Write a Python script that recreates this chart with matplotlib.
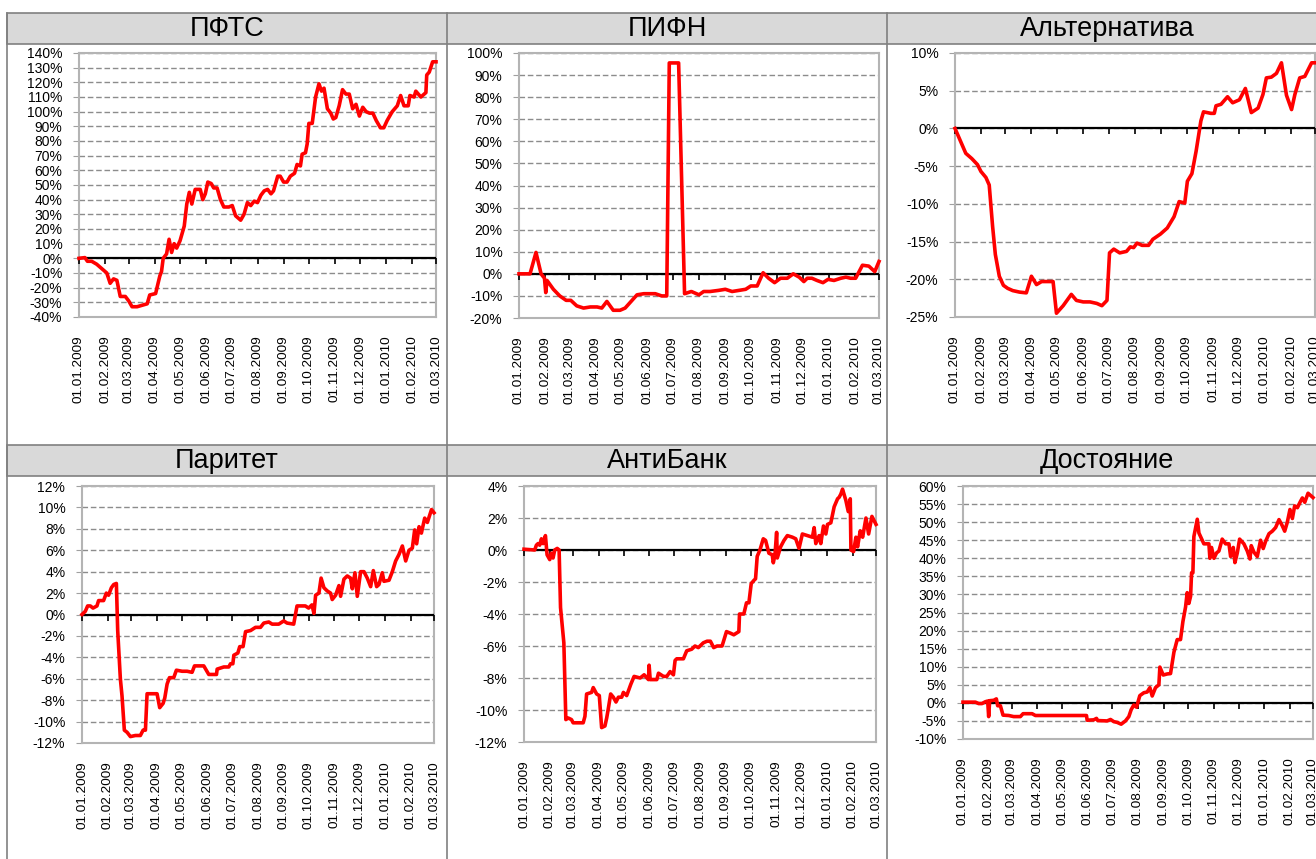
import numpy as np
import matplotlib
matplotlib.use('Agg')
from matplotlib import pyplot as plt
import matplotlib.dates as mdates
from matplotlib.lines import Line2D
from matplotlib.patches import Rectangle
from matplotlib.ticker import FuncFormatter, MultipleLocator
from matplotlib.markers import TICKDOWN
from datetime import datetime

plt.rcParams['font.family'] = ['Liberation Sans', 'DejaVu Sans']

# day offsets from 01.01.2009, values in %
pfts_days = [0, 7, 10, 15, 21, 27, 33, 37, 41, 45, 49, 55, 59, 63, 69, 75, 81, 84, 91, 96, 98, 100,
             104, 107, 110, 113, 116, 120, 125, 128, 131, 134, 138, 144, 147, 150, 153, 157, 160, 164,
             168, 172, 178, 182, 186, 192, 196, 200, 204, 208, 212, 216, 220, 224, 228, 231, 236, 239,
             243, 247, 251, 256, 259, 263, 265, 269, 271, 273, 277, 281, 285, 288, 291, 295, 299, 302,
             305, 309, 313, 317, 321, 325, 329, 333, 337, 341, 345, 349, 353, 358, 362, 366, 372, 378,
             382, 386, 391, 393, 398, 400, 406, 410, 412, 413, 416, 420, 424]
pfts_vals = [0, 0.5, -2, -2, -4, -7, -10, -17, -14, -15, -26, -26, -29, -33, -33, -32, -31, -25, -24,
             -12, -9, 0, 3, 13, 4, 10, 7, 12, 22, 37, 45, 37, 47, 47, 40, 44, 52, 51, 48, 48, 40, 35, 35,
             36, 29, 26, 30, 38, 36, 39, 38, 43, 46, 47, 44, 46, 56, 56, 52, 52, 56, 58, 64, 63, 71, 72,
             78, 92, 92, 110, 119, 114, 116, 102, 99, 95, 96, 104, 115, 112, 112, 102, 105, 97, 103, 100,
             99, 99, 94, 89, 89, 94, 100, 104, 111, 104, 104, 111, 110, 114, 110, 112, 113, 125, 127,
             134, 134]

pifn_days = [0, 13, 20, 26, 30, 31.5, 33, 40.5, 48, 55.5, 61, 68, 76, 84, 92, 97.5, 103.5, 111, 119,
             125, 132, 139, 147, 155, 160.5, 168, 174, 177, 182, 188, 195, 203, 212, 217.5, 225, 235,
             243, 251, 259, 267, 273, 280.5, 287.5, 294, 301, 308, 316, 323, 330, 335.5, 339.5, 345,
             351, 358, 364, 371, 379, 385, 390.5, 396.5, 404.5, 412, 419, 424]
pifn_vals = [0, 0, 9.7, 0, -2, -8.5, -3, -7, -10, -12, -12, -14.5, -15.5, -15, -15, -15.5, -12.5,
             -16.5, -16.5, -15.5, -12.5, -9.5, -9, -9, -9, -10, -10, 95.5, 95.5, 95.5, -9, -8, -9.5,
             -8, -8, -7.5, -7, -8, -7.5, -7, -5.5, -5.5, 0.5, -2, -4, -2, -2, 0, -1.5, -3.5, -2, -2,
             -3, -4, -2.5, -3, -2, -1.5, -2, -2, 3.9, 3.5, 1, 5.6]

alt_days = [0, 12.7, 19.8, 26.5, 30.5, 36.4, 40.3, 44.3, 47.5, 52.2, 57, 62, 68, 76, 84, 90, 96, 102,
            107.6, 115.5, 119.5, 127.4, 137, 143, 151, 159, 167, 173, 179, 182, 187, 194, 202, 206.5,
            210.4, 214.4, 220.3, 228, 233, 242, 250, 258, 264, 270.6, 273.7, 279, 284, 289.6, 292.7,
            301.4, 305.4, 307.4, 313.3, 321, 327, 335, 342, 349, 357, 362.7, 366.7, 372.6, 378.6,
            384.5, 390.4, 396.4, 400.3, 406, 412, 420, 424]
alt_vals = [0, -3.3, -4, -4.8, -5.7, -6.5, -7.5, -13, -16.7, -19.6, -20.8, -21.2, -21.5, -21.7, -21.8,
            -19.6, -20.7, -20.3, -20.3, -20.3, -24.5, -23.5, -22, -22.8, -23, -23, -23.2, -23.5, -22.8,
            -16.5, -16, -16.5, -16.3, -15.7, -15.8, -15.2, -15.5, -15.5, -14.7, -14, -13.2, -11.7, -9.7,
            -9.9, -7, -6, -3, 1, 2.2, 2, 2, 3, 3.2, 4.2, 3.4, 3.8, 5.3, 2.1, 2.7, 4.5, 6.7, 6.8, 7.3,
            8.7, 4.4, 2.5, 4.5, 6.7, 6.9, 8.7, 8.7]

par_days = [0, 4, 6.8, 10, 13.3, 18, 20, 26, 29.3, 32, 35.4, 38.2, 41.4, 43, 46.2, 48.2, 51, 54.3, 58.3,
            64.3, 70.3, 73.6, 76.4, 78.4, 90.4, 93.6, 97.7, 99.7, 102.5, 105.3, 110.5, 113.7, 120.6,
            126.6, 132.6, 135.5, 146.7, 152.7, 162, 162.8, 170.8, 176.8, 178.9, 181.7, 182.9, 187.7,
            190, 194, 197, 203, 209, 215, 219, 225, 229, 237, 243, 247, 255, 259, 269, 273, 277, 279.4,
            281.4, 285.4, 288, 291.4, 295.4, 299.4, 301.4, 305.5, 309.5, 311.5, 315.5, 319.5, 323.5,
            325.6, 328.8, 331.6, 335.6, 339.6, 343.6, 347.7, 350.9, 354.9, 357.7, 361.7, 363.7, 369.8,
            373.8, 377.8, 381.8, 385.9, 389.9, 393.9, 397.9, 400.7, 403.1, 406, 408.8, 412.8, 416, 421,
            424]
par_vals = [0, 0.3, 0.8, 0.8, 0.6, 0.8, 1.3, 1.3, 2.0, 1.8, 2.5, 2.8, 2.9, -1.5, -6, -7.6, -10.8, -11,
            -11.4, -11.3, -11.3, -10.8, -10.8, -7.4, -7.4, -8.7, -8.3, -7.8, -6.5, -5.9, -5.9, -5.2,
            -5.3, -5.3, -5.4, -4.8, -4.8, -5.6, -5.6, -5.1, -4.9, -4.9, -4.6, -4.6, -3.8, -3.6, -3.0,
            -3.0, -1.6, -1.5, -1.2, -1.2, -0.8, -0.7, -0.9, -0.9, -0.6, -0.8, -0.9, 0.8, 0.8, 0.6, 0.9,
            0.1, 1.8, 2.0, 3.4, 2.5, 2.2, 2.0, 1.4, 1.8, 2.7, 1.7, 3.3, 3.6, 3.4, 2.4, 3.9, 1.7, 4.0, 4.0,
            3.4, 2.6, 4.1, 2.6, 2.8, 3.9, 3.1, 3.2, 4.0, 5.0, 5.6, 6.4, 5.0, 6.0, 6.2, 7.9, 6.6, 8.2,
            7.6, 9.0, 8.6, 9.8, 9.5]

anti_days = [0, 12.9, 14.9, 16.9, 18.9, 21, 23, 25.8, 27.8, 31, 33, 35, 37, 40, 42.3, 44, 48, 50.4,
             53.2, 57.2, 59.2, 71.3, 73.4, 75.4, 81.4, 83.4, 87.5, 90.7, 93.5, 97.5, 99.6, 101.6, 104.4,
             107.6, 110.8, 113.7, 117.7, 119.7, 123.7, 128.6, 132.6, 139.9, 144.7, 149.9, 150.7, 152,
             160, 162, 168, 172, 176, 180, 182, 184, 192, 196, 202, 206, 210, 216, 220.5, 224.5, 228.5,
             232.6, 238.6, 243.9, 248.7, 252.7, 258.8, 259.6, 264.8, 268, 270.9, 273.7, 276.9, 278.9,
             280.9, 284.2, 288.2, 291, 295, 299, 300.3, 302.3, 304.3, 305.1, 309.1, 313.2, 317.2, 323.3,
             327.3, 331.3, 335.3, 341.4, 347.4, 349.5, 351.5, 355.5, 357.5, 360.7, 363.6, 365.6, 369.6,
             373.6, 377.7, 379.7, 381.7, 383.7, 387.7, 390.6, 393, 393.8, 397, 399.8, 401.8, 405, 407.9,
             411.9, 415.1, 419.1, 424]
anti_vals = [0.05, 0, 0.3, 0.4, 0.3, 0.7, 0.4, 0.9, -0.3, -0.6, -0.2, -0.5, 0, 0.1, 0, -3.6, -5.8,
             -10.6, -10.5, -10.6, -10.8, -10.8, -10.4, -9.0, -8.9, -8.6, -9.0, -9.1, -11.1, -11, -10.5,
             -9.9, -9.0, -9.2, -9.5, -9.2, -9.2, -8.9, -9.1, -8.4, -7.9, -8.0, -7.8, -8.1, -7.2, -8.1,
             -8.1, -7.7, -7.9, -7.9, -7.6, -7.8, -6.9, -6.8, -6.8, -6.3, -6.2, -6.0, -6.1, -5.8, -5.7,
             -5.7, -6.1, -6.0, -6.0, -5.1, -5.2, -5.3, -5.1, -4.0, -4.0, -3.3, -3.3, -2.1, -1.9, -1.8,
             -0.4, 0, 0.7, 0.6, -0.2, -0.3, -0.8, -0.3, 1.1, -0.5, 0.2, 0.6, 0.9, 0.8, 0.7, 0.1, 1.0,
             0.9, 0.8, 1.4, 0.4, 0.9, 0.4, 1.5, 1.0, 1.6, 1.7, 2.7, 3.2, 3.3, 3.5, 3.8, 3.1, 2.4, 3.2,
             0, -0.1, 0.8, 0.2, 1.2, 0.8, 2.0, 1.0, 2.1, 1.6]

dost_days = [0, 15, 19, 23, 27, 29.9, 31.1, 32.3, 37.2, 40.4, 42, 45.3, 48.5, 55.4, 61.4, 69.5, 72.8,
             83.7, 87.7, 97.8, 109.9, 126.1, 138.2, 149.6, 150.4, 158.4, 161.7, 163.3, 174.6, 178.7,
             182.7, 186.7, 191.6, 196.8, 200.9, 203.7, 206.9, 210.2, 214.2, 219.1, 223.1, 226.4, 229.2,
             233.2, 237.3, 238.5, 242.5, 247.4, 251.4, 255.5, 259.5, 263.5, 266.4, 269.6, 271.6, 273.6,
             275.7, 276.9, 278.5, 279.7, 283.8, 285.8, 289.8, 291.8, 297.9, 299.1, 301.1, 304, 307.2,
             310, 314, 318.1, 322.2, 324.2, 327.4, 329.4, 332.3, 335.1, 340.3, 344.4, 347.6, 349.2,
             352.4, 356.5, 360.5, 363.7, 366.6, 370.7, 374.7, 378.7, 382.8, 386.8, 389.7, 392.9, 396.1,
             399, 401.8, 405.1, 408.3, 411.1, 414, 418, 424]
dost_vals = [0.2, 0.2, -0.2, -0.2, 0.3, 0.5, -3.8, 0.6, 0.7, 1.1, -0.8, -0.8, -3.4, -3.5, -3.8, -3.8,
             -3.0, -3.0, -3.5, -3.5, -3.5, -3.5, -3.5, -3.5, -4.8, -4.7, -4.3, -4.9, -5.0, -4.6, -5.2,
             -5.4, -5.9, -5.0, -3.8, -1.9, -0.6, -1.2, 2.0, 2.8, 3.0, 4.2, 1.9, 4.2, 5.0, 9.9, 7.7, 8.0,
             8.1, 14, 17.5, 17.5, 22.5, 26.5, 30.5, 27.5, 29.5, 36, 36, 46, 50.8, 47, 45, 44, 44, 40, 43,
             40, 41.5, 42, 45.3, 44, 44, 40.5, 43, 38.8, 41.5, 45.3, 44, 42, 39.8, 43.5, 41.7, 40.5, 45,
             42.7, 44.7, 46.8, 47.5, 48.5, 50.7, 49.0, 47.5, 50.0, 53.5, 51, 54.5, 54, 55.5, 56.7, 55.5,
             58.0, 56.8]

titles = ['ПФТС', 'ПИФН', 'Альтернатива', 'Паритет', 'АнтиБанк', 'Достояние']
series = [(pfts_days, pfts_vals), (pifn_days, pifn_vals), (alt_days, alt_vals),
          (par_days, par_vals), (anti_days, anti_vals), (dost_days, dost_vals)]
ylims = [(-40, 140, 10), (-20, 100, 10), (-25, 10, 5), (-12, 12, 2), (-12, 4, 2), (-10, 60, 5)]

W, H = 1316, 859
# plot boxes in pixels: x0, y0, x1, y1
boxes = [(79, 53, 436, 317), (519, 53, 879, 318), (955, 53, 1315, 317),
         (82, 486, 434, 743), (524, 486, 876, 742), (963, 486, 1313, 739)]

fig = plt.figure(figsize=(W / 100, H / 100), dpi=100)

# table grid
grey = '#808080'
for ytop in (13, 445):
    fig.add_artist(Rectangle((7 / W, 1 - (ytop + 31) / H), 1.1, 31 / H, transform=fig.transFigure,
                             facecolor='#d9d9d9', edgecolor=grey, lw=1.2))
for xv in (7, 447, 887):
    fig.add_artist(Line2D([xv / W, xv / W], [0, 1 - 13 / H], transform=fig.transFigure, color=grey, lw=1.2))

base = mdates.date2num(datetime(2009, 1, 1))
months = [datetime(2009 + (m // 12), m % 12 + 1, 1) for m in range(15)]
mnum = mdates.date2num(months)

for i in range(6):
    x0, y0, x1, y1 = boxes[i]
    ax = fig.add_axes([x0 / W, 1 - y1 / H, (x1 - x0) / W, (y1 - y0) / H])
    col, row = i % 3, i // 3
    hy = 13 if row == 0 else 445
    fig.text((7 + 440 * col + 220) / W, 1 - (hy + 16) / H, titles[i], ha='center', va='center', fontsize=19.5)

    d, v = series[i]
    ax.plot(base + np.array(d), v, color='#ff0000', lw=2.6, zorder=4, clip_on=False)
    lo, hi, st = ylims[i]
    ax.set_ylim(lo, hi)
    ax.set_xlim(mnum[0], mnum[-1])
    ax.yaxis.set_major_locator(MultipleLocator(st))
    ax.yaxis.set_major_formatter(FuncFormatter(lambda y, p: '%d%%' % round(y)))
    ax.grid(axis='y', color='#8c8c8c', linestyle=(0, (4, 2)), lw=1)
    ax.axhline(0, color='black', lw=1.6, zorder=3)
    ax.plot(mnum, np.zeros(15), linestyle='none', marker=TICKDOWN, markersize=4, color='black',
            markeredgewidth=1.2, zorder=3, clip_on=False)
    ax.set_xticks(mnum)
    ax.set_xticklabels([m.strftime('%d.%m.%Y') for m in months], rotation=90, fontsize=9.7)
    ax.tick_params(axis='x', length=0, pad=13)
    ax.tick_params(axis='y', length=4, color='#a0a0a0', labelsize=10, pad=8)
    for s in ax.spines.values():
        s.set_color('#b4b4b4')
        s.set_linewidth(1.5)
    ax.set_axisbelow(True)

plt.savefig('out.png', dpi=100)
